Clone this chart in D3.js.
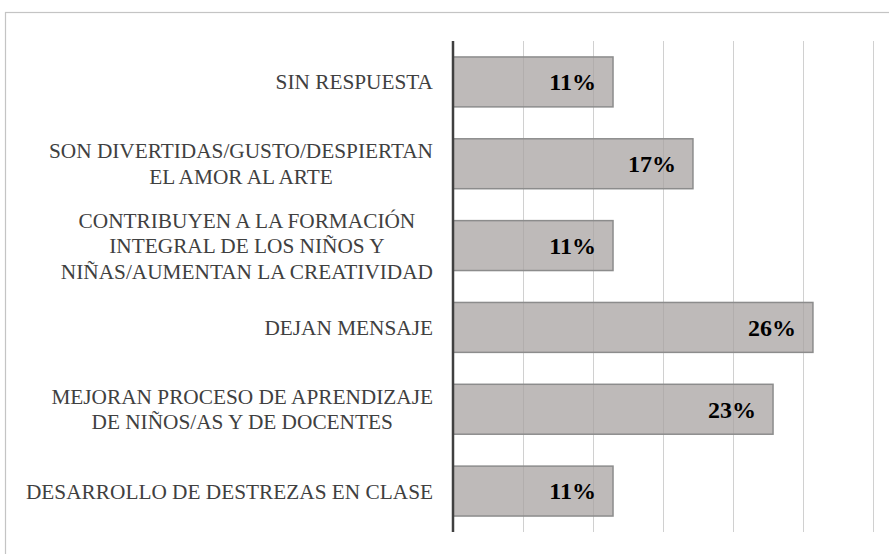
<!DOCTYPE html>
<html>
<head>
<meta charset="utf-8">
<script src="https://cdn.jsdelivr.net/npm/d3@7"></script>
<style>
  body { margin: 0; background: #fff; }
  svg { display: block; }
</style>
</head>
<body>
<div id="chart"></div>
<script>
// respuestas (n = 35), de arriba hacia abajo
var categories = [
  ["SIN RESPUESTA"],
  ["SON DIVERTIDAS/GUSTO/DESPIERTAN", "EL AMOR AL ARTE"],
  ["CONTRIBUYEN A LA FORMACIÓN", "INTEGRAL DE LOS NIÑOS Y", "NIÑAS/AUMENTAN LA CREATIVIDAD"],
  ["DEJAN MENSAJE"],
  ["MEJORAN PROCESO DE APRENDIZAJE", "DE NIÑOS/AS Y DE DOCENTES"],
  ["DESARROLLO DE DESTREZAS EN CLASE"]
]
var values = [0.1143, 0.1714, 0.1143, 0.2571, 0.2286, 0.1143]
var labels = ["11%", "17%", "11%", "26%", "23%", "11%"]
var ticks = [0, 0.05, 0.10, 0.15, 0.20, 0.25, 0.30]

var width = 889,
    height = 554
var serif = "'Liberation Serif', serif"

var svg = d3.select("#chart")
  .append("svg")
    .attr("width", width)
    .attr("height", height)

// marco del gráfico
svg.append("rect")
  .attr("x", 5.5).attr("y", 12.5)
  .attr("width", 900).attr("height", 600)
  .attr("fill", "none")
  .attr("stroke", "#c4c4c4")
  .attr("stroke-width", 1.2)

var plot = {left: 453, right: 873, top: 41, bottom: 532}

var x = d3.scaleLinear()
  .domain([0, 0.3])
  .range([plot.left, plot.right])

var y = d3.scaleBand()
  .domain(d3.range(values.length))
  .range([plot.top, plot.bottom])
  .paddingInner(0.39)
  .paddingOuter(0.195)

// cuadrícula
svg.selectAll("grid")
  .data(ticks.slice(1))
  .enter()
  .append("line")
    .attr("x1", function(d) { return x(d) + 0.5 })
    .attr("x2", function(d) { return x(d) + 0.5 })
    .attr("y1", plot.top)
    .attr("y2", plot.bottom)
    .attr("stroke", "#d0d0d0")
    .attr("stroke-width", 1)

// barras
svg.selectAll("bars")
  .data(values)
  .enter()
  .append("rect")
    .attr("x", x(0))
    .attr("y", function(d, i) { return y(i) })
    .attr("width", function(d) { return x(d) - x(0) })
    .attr("height", y.bandwidth())
    .attr("fill", "#a8a3a2")
    .attr("fill-opacity", 0.75)
    .attr("stroke", "#8c8c8c")
    .attr("stroke-width", 1.5)

// eje vertical
svg.append("line")
  .attr("x1", x(0)).attr("x2", x(0))
  .attr("y1", plot.top).attr("y2", plot.bottom)
  .attr("stroke", "#404040")
  .attr("stroke-width", 2.5)

// etiquetas de valores
svg.selectAll("vals")
  .data(values)
  .enter()
  .append("text")
    .attr("x", function(d) { return x(d) - 17 })
    .attr("y", function(d, i) { return y(i) + y.bandwidth() / 2 })
    .attr("dy", "0.35em")
    .attr("text-anchor", "end")
    .style("font-family", serif)
    .style("font-size", "24px")
    .style("font-weight", "bold")
    .attr("fill", "#000")
    .text(function(d, i) { return labels[i] })

// etiquetas de categorías
var lineH = 25.5
var rightEdge = 433
categories.forEach(function(lines, i) {
  var g = svg.append("text")
    .attr("text-anchor", "middle")
    .style("font-family", serif)
    .style("font-size", "21.3px")
    .attr("fill", "#404040")
  var cy = y(i) + y.bandwidth() / 2
  lines.forEach(function(l, j) {
    g.append("tspan")
      .attr("y", cy + (j - (lines.length - 1) / 2) * lineH)
      .attr("dy", "0.35em")
      .text(l)
  })
  var w = 0
  g.selectAll("tspan").each(function() { w = Math.max(w, this.getComputedTextLength()) })
  g.selectAll("tspan").attr("x", rightEdge - w / 2)
})
</script>
</body>
</html>
